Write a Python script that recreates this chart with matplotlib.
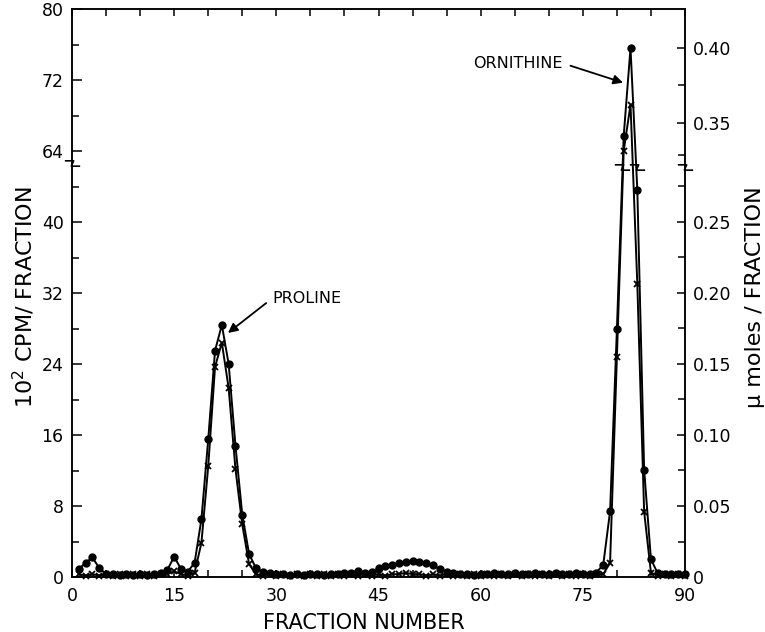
import numpy as np
import matplotlib
matplotlib.use("Agg")
import matplotlib.pyplot as plt
import matplotlib.transforms as mtransforms
from matplotlib.path import Path

# fraction number for each collected fraction
fractions = list(range(1, 91))

# 10^2 CPM per fraction (filled circles, left axis)
cpm = [0.9, 1.6, 2.2, 1.0, 0.3, 0.3, 0.2, 0.3, 0.2, 0.3,
       0.2, 0.3, 0.4, 0.8, 2.3, 0.9, 0.6, 1.6, 6.5, 15.5,
       25.5, 28.4, 24.0, 14.8, 7.0, 2.6, 1.0, 0.6, 0.4, 0.3,
       0.3, 0.2, 0.3, 0.2, 0.3, 0.3, 0.2, 0.3, 0.3, 0.4,
       0.5, 0.7, 0.5, 0.6, 1.0, 1.2, 1.4, 1.6, 1.7, 1.8,
       1.7, 1.6, 1.3, 0.9, 0.6, 0.4, 0.3, 0.3, 0.2, 0.3,
       0.3, 0.4, 0.3, 0.3, 0.4, 0.3, 0.3, 0.4, 0.3, 0.3,
       0.4, 0.3, 0.3, 0.4, 0.3, 0.3, 0.5, 1.4, 7.4, 27.9,
       65.7, 75.6, 43.6, 12.1, 2.0, 0.4, 0.3, 0.3, 0.3, 0.3]

# micromoles per fraction (crosses, right axis)
umoles = [0.002, 0.001, 0.002, 0.001, 0.002, 0.001, 0.002, 0.001, 0.002, 0.001,
          0.002, 0.001, 0.002, 0.002, 0.004, 0.002, 0.001, 0.003, 0.024, 0.078,
          0.148, 0.165, 0.133, 0.076, 0.037, 0.009, 0.002, 0.001, 0.002, 0.001,
          0.002, 0.001, 0.002, 0.001, 0.002, 0.001, 0.002, 0.001, 0.002, 0.001,
          0.002, 0.001, 0.002, 0.001, 0.002, 0.001, 0.002, 0.002, 0.003, 0.002,
          0.002, 0.001, 0.002, 0.001, 0.002, 0.001, 0.002, 0.001, 0.002, 0.001,
          0.002, 0.001, 0.002, 0.001, 0.002, 0.001, 0.002, 0.001, 0.002, 0.001,
          0.002, 0.001, 0.002, 0.001, 0.002, 0.001, 0.002, 0.002, 0.010, 0.155,
          0.331, 0.362, 0.206, 0.046, 0.003, 0.001, 0.002, 0.001, 0.002, 0.001]

left_ticks = [0, 8, 16, 24, 32, 40, 64, 72, 80]
left_minor = [4, 12, 20, 28, 36, 44, 68, 76]
right_ticks = [0, 0.05, 0.10, 0.15, 0.20, 0.25, 0.35, 0.40]
right_labels = ["0", "0.05", "0.10", "0.15", "0.20", "0.25", "0.35", "0.40"]
right_minor = [0.025, 0.075, 0.125, 0.175, 0.225, 0.275, 0.325, 0.375]
x_ticks = [0, 15, 30, 45, 60, 75, 90]

# broken axes: piecewise linear map value -> plotted height
cpm_knots = [-10, 0, 46, 63, 200]
cpm_pos = [-10, 0, 46, 47, 184]
um_knots = [-1, 0, 0.285, 0.33, 1.0]
um_pos = [-160, 0, 45.6, 47.84, 160.4]


def cpm_fwd(v):
    return np.interp(v, cpm_knots, cpm_pos)


def cpm_inv(p):
    return np.interp(p, cpm_pos, cpm_knots)


def um_fwd(v):
    return np.interp(v, um_knots, um_pos)


def um_inv(p):
    return np.interp(p, um_pos, um_knots)


fig = plt.figure(figsize=(7.65, 6.32), dpi=100)
ax = fig.add_axes([72 / 765, 55 / 632, 613 / 765, 568 / 632])
ax.set_yscale('function', functions=(cpm_fwd, cpm_inv))
ax2 = ax.twinx()
ax2.set_yscale('function', functions=(um_fwd, um_inv))

ax.plot(fractions, cpm, color='k', lw=1.4, marker='o', ms=5, clip_on=False, zorder=3)
ax2.plot(fractions, umoles, color='k', lw=1.4, marker='x', ms=4.5, mew=1.3, clip_on=False, zorder=3)

ax.set_xlim(0, 90)
ax.set_ylim(0, 80)
ax2.set_ylim(0, 0.35 + (64 - 51.2) / 168)

ax.set_xticks(x_ticks)
ax.set_xticks(range(0, 91, 5), minor=True)
ax.set_yticks(left_ticks)
ax.set_yticklabels([str(t) for t in left_ticks])
ax.set_yticks(left_minor, minor=True)
ax.yaxis.set_minor_formatter(plt.NullFormatter())
ax2.set_yticks(right_ticks)
ax2.set_yticklabels(right_labels)
ax2.set_yticks(right_minor, minor=True)
ax2.yaxis.set_minor_formatter(plt.NullFormatter())

ax.tick_params(axis='x', which='both', direction='in', top=True, bottom=True,
               length=5, width=1.1, labelsize=12.5, pad=7)
ax.tick_params(axis='y', which='major', direction='in', length=7, width=1.1,
               labelsize=12.5, pad=6)
ax.tick_params(axis='y', which='minor', direction='in', length=5, width=1.1)
ax2.tick_params(axis='y', which='major', direction='in', length=6, width=1.1,
                labelsize=12.5, pad=6)
ax2.tick_params(axis='y', which='minor', direction='in', length=5, width=1.1)

for a in (ax, ax2):
    for s in a.spines.values():
        s.set_linewidth(1.1)

ax.set_xlabel("FRACTION NUMBER", fontsize=15)
ax.xaxis.set_label_coords(0.476, -0.063)
ax.set_ylabel("10$^2$ CPM/ FRACTION", fontsize=16)
ax.yaxis.set_label_coords(-0.057, 0.493)
ax2.set_ylabel("μ moles / FRACTION", fontsize=16)
ax2.yaxis.set_label_coords(1.098, 0.493)

ax.annotate("PROLINE", xy=(22.9, 27.5), xytext=(29.4, 31.4), fontsize=11.5,
            ha='left', va='center',
            arrowprops=dict(arrowstyle='-|>', color='k', lw=1.3, relpos=(0, 0.5),
                            shrinkA=3, shrinkB=0, mutation_scale=14))
ax.annotate("ORNITHINE", xy=(80.9, 71.7), xytext=(72.0, 73.9), fontsize=11.5,
            ha='right', va='center',
            arrowprops=dict(arrowstyle='-|>', color='k', lw=1.3, relpos=(1, 0.5),
                            shrinkA=4, shrinkB=0, mutation_scale=14))

# break symbols on the axes and on the ornithine peak
zig = Path([(-1, 0.35), (0.15, 0.35), (-0.15, -0.35), (1, -0.35)],
           [Path.MOVETO, Path.LINETO, Path.LINETO, Path.LINETO])
spine_tr = ax.transAxes
ax.plot([0], [0.728], marker=zig, ms=11, mfc='none', mec='k', mew=1.2,
        ls='none', transform=spine_tr, clip_on=False, zorder=5)
ax.plot([1], [0.722], marker=zig, ms=11, mfc='none', mec='k', mew=1.2,
        ls='none', transform=spine_tr, clip_on=False, zorder=5)
curve_tr = mtransforms.blended_transform_factory(ax.transData, ax.transAxes)
ax.plot([80.7, 83.0], [0.722, 0.722], marker=zig, ms=11, mfc='none', mec='k',
        mew=1.2, ls='none', transform=curve_tr, clip_on=False, zorder=5)

fig.savefig("out.png", dpi=100)
